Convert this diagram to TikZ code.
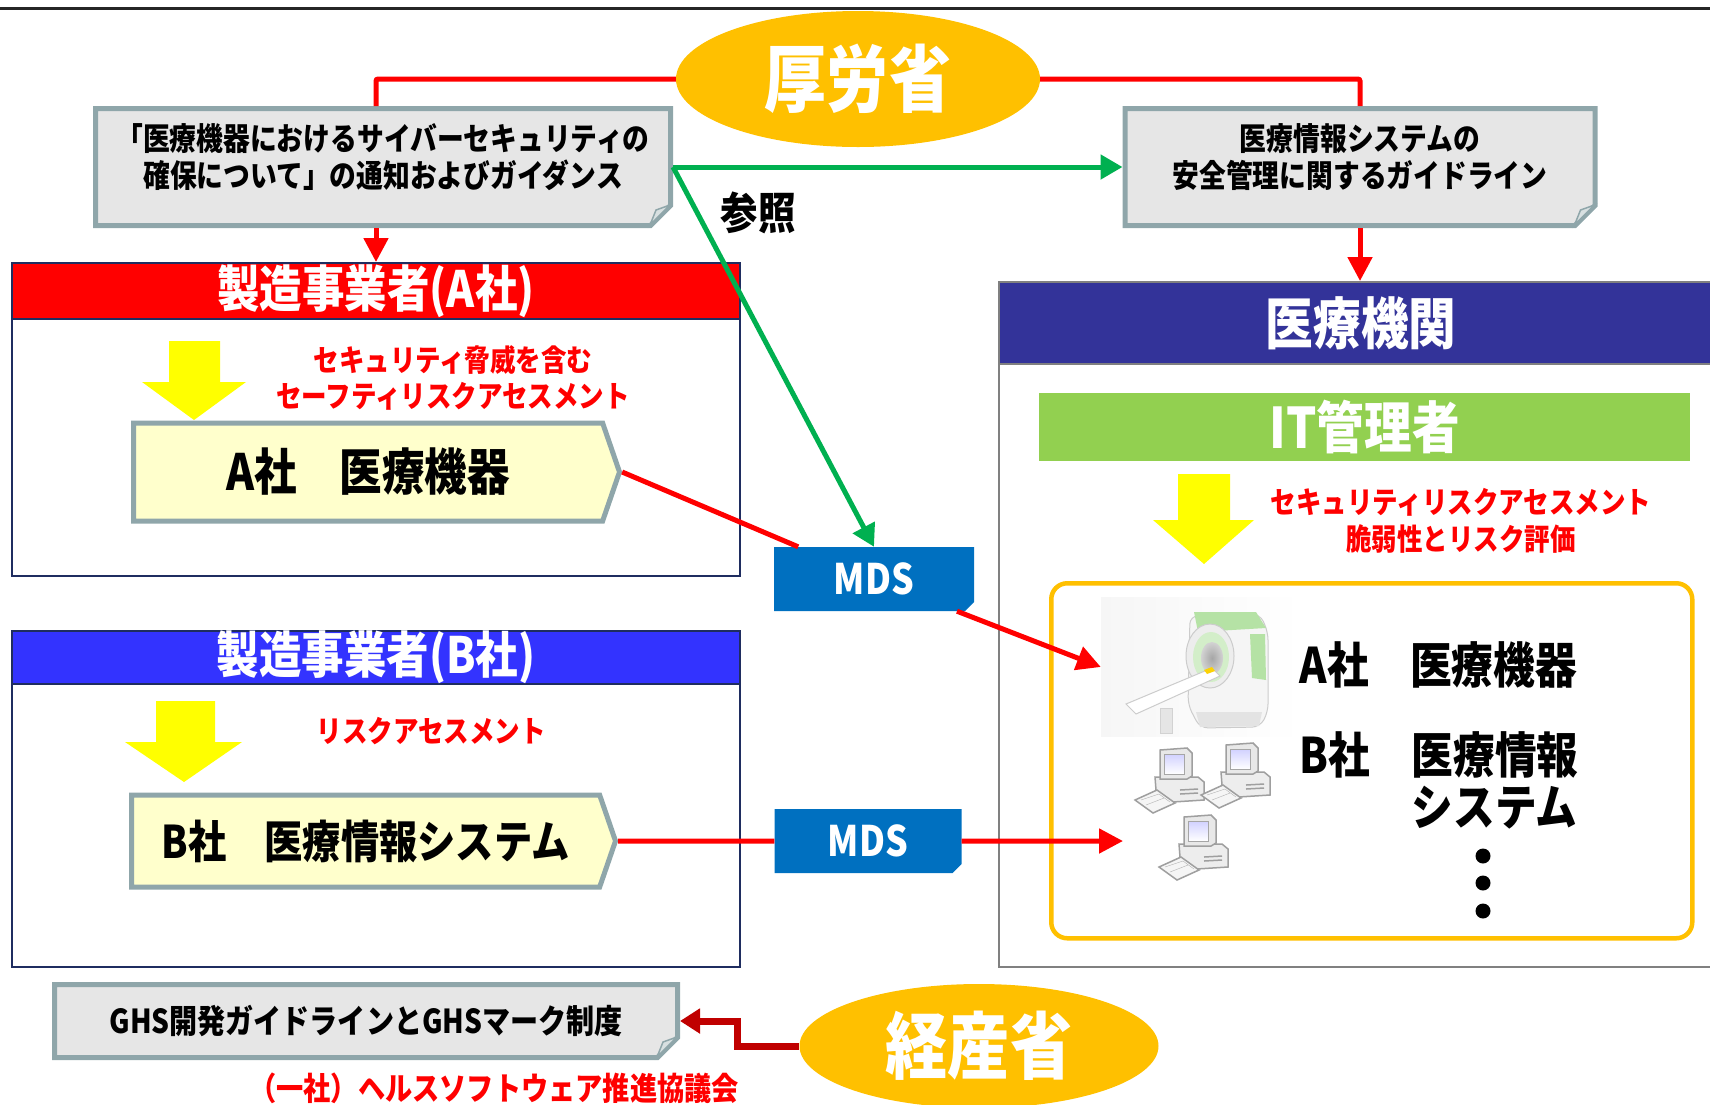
\documentclass[tikz,border=0pt]{standalone}
\usepackage{fontspec}
\setmainfont{Noto Sans CJK JP}[BoldFont={Noto Sans CJK JP Black}, FakeStretch=0.85]
\usepackage{tikz}
\usetikzlibrary{shapes.geometric, shapes.misc, shapes.symbols, arrows.meta, positioning, calc}
\definecolor{ministrygold}{RGB}{255, 192, 0}
\definecolor{alertred}{RGB}{255, 0, 0}
\definecolor{metired}{RGB}{192, 0, 0}
\definecolor{refgreen}{RGB}{0, 176, 80}
\definecolor{notegray}{RGB}{230, 230, 230}
\definecolor{noteedge}{RGB}{143, 166, 170}
\definecolor{productcream}{RGB}{255, 255, 204}
\definecolor{mdsblue}{RGB}{0, 112, 192}
\definecolor{makerblue}{RGB}{51, 51, 255}
\definecolor{hospitalnavy}{RGB}{51, 51, 153}
\definecolor{itgreen}{RGB}{146, 208, 80}
\definecolor{flowyellow}{RGB}{255, 255, 0}
\definecolor{panelnavy}{RGB}{31, 45, 96}
\definecolor{panelgray}{RGB}{128, 128, 128}
\definecolor{scannergreen}{RGB}{181, 226, 165}
\newcommand{\fsz}[2]{\fontsize{#1pt}{#2pt}\selectfont}

\begin{document}
\begin{tikzpicture}[
    x=1pt, y=-1pt,
    ministry/.style={ellipse, fill=ministrygold, inner sep=0pt, text=white, font=\bfseries\fsz{73}{80}},
    note/.style={chamfered rectangle, chamfered rectangle corners=south east, chamfered rectangle sep=10pt,
        fill=notegray, draw=noteedge, line width=5pt, inner xsep=4pt, align=center, font=\bfseries\fsz{31.5}{37}},
    panel/.style={draw=panelnavy, line width=2pt, fill=white, anchor=north west, inner sep=0pt},
    header/.style={draw=panelnavy, line width=2pt, anchor=north west, inner sep=0pt, text=white, font=\bfseries\fsz{50}{56}},
    product/.style={signal, signal to=east, signal pointer angle=142, fill=productcream, draw=noteedge,
        line width=5pt, anchor=west, font=\bfseries\fsz{50}{56}},
    mds/.style={chamfered rectangle, chamfered rectangle corners=south east, chamfered rectangle sep=4.5pt,
        fill=mdsblue, inner sep=0pt, text=white, font=\bfseries\fsz{42}{48}},
    hint/.style={text=alertred, align=center, font=\bfseries\fsz{30}{36}},
    flow/.style={fill=flowyellow},
    redline/.style={alertred, line width=5pt},
    redarrow/.style={redline, -{Triangle[length=24pt, width=24pt]}},
    greenarrow/.style={refgreen, line width=5pt, -{Triangle[length=22pt, width=24pt]}},
    metiarrow/.style={metired, line width=7pt, -{Triangle[length=20pt, width=24pt]}},
    device/.style={draw=gray!75, line width=1.5pt}
]
\useasboundingbox (0,0) rectangle (1710,1104);
\draw[line width=3pt, black!85] (0,8) -- (1710,8);

% Manufacturer panels
\node[panel, minimum width=728pt, minimum height=313pt] (makerA) at (11,262) {};
\node[header, fill=alertred, minimum width=728pt, minimum height=56pt] (hdrA) at (makerA.north west) {製造事業者(A社)};
\node[panel, minimum width=728pt, minimum height=336pt] (makerB) at (11,630) {};
\node[header, fill=makerblue, minimum width=728pt, minimum height=48pt] (hdrB) at (makerB.north west) {製造事業者(B社)};

% Hospital panel
\node[panel, draw=panelgray, minimum width=724pt, minimum height=685pt] (hospital) at (998,281) {};
\node[header, draw=panelgray, fill=hospitalnavy, minimum width=724pt, minimum height=82pt, font=\bfseries\fsz{56}{62}] (hdrH) at (hospital.north west) {医療機関};
\node[anchor=north west, fill=itgreen, minimum width=651pt, minimum height=68pt, inner sep=0pt, text=white, font=\bfseries\fsz{56}{62}] (itadmin) at (1039,393) {IT管理者};
\node[anchor=north west, draw=ministrygold, line width=4.5pt, rounded corners=16pt, minimum width=641pt, minimum height=355pt] (assets) at (1049,581) {};

% Scanner
\node[minimum width=202pt, minimum height=139pt, inner sep=0pt, left color=gray!7, right color=white] (mri) at (1202,667) {};
\filldraw[fill=gray!8, draw=gray!40, line width=1pt, rounded corners=8pt] (1190,616) -- (1260,614) -- (1268,632) -- (1268,712) -- (1260,727) -- (1200,728) -- (1188,705) -- cycle;
\fill[scannergreen] (1194,612) -- (1256,612) -- (1266,628) -- (1198,632) -- cycle;
\fill[scannergreen] (1250,634) -- (1265,634) -- (1266,680) -- (1252,678) -- cycle;
\fill[gray!22] (1196,712) -- (1262,712) -- (1259,726) -- (1200,727) -- cycle;
\filldraw[fill=gray!14, draw=gray!40, line width=1pt] (1210,656) ellipse (24pt and 32pt);
\fill[scannergreen!60!white] (1211,657) ellipse (18pt and 25pt);
\shade[inner color=gray!70, outer color=gray!35] (1212,658) ellipse (11pt and 16pt);
\filldraw[fill=gray!20, draw=gray!35] (1160,708) rectangle (1172,733);
\filldraw[fill=white, draw=gray!40, line width=1pt] (1126,704) -- (1212,668) -- (1220,676) -- (1136,714) -- cycle;
\fill[yellow!70!orange] (1204,670) -- (1212,667) -- (1215,671) -- (1207,674) -- cycle;

% Computers
\foreach \px/\py in {1160/748, 1226/743, 1184/815}{
  \begin{scope}[shift={(\px,\py)}]
    \filldraw[device, fill=gray!14] (-5,29) -- (38,29) -- (44,34) -- (44,52) -- (-3,55) -- cycle;
    \draw[device] (20,42) -- (38,41) (20,46) -- (38,45);
    \filldraw[device, fill=gray!18] (0,2) -- (27,0) -- (32,5) -- (32,28) -- (27,31) -- (0,31) -- cycle;
    \shade[top color=blue!18, bottom color=white, draw=gray!70] (4,6) rectangle (24,26);
    \filldraw[device, fill=gray!8] (-25,52) -- (-3,42) -- (15,55) -- (-7,65) -- cycle;
    \draw[gray!60] (-19,52) -- (-1,46) -- (10,54) (-14,57) -- (4,50);
  \end{scope}
}

% Assets in the hospital
\node[anchor=west, font=\bfseries\fsz{49}{52}] (assetA) at (1296,665) {A社　医療機器};
\node[anchor=west, align=left, font=\bfseries\fsz{49}{52}] (assetB) at (1296,781) {B社　医療情報\\\phantom{B社　}システム};
\foreach \dy in {856, 883, 911}
  \fill (1483,\dy) circle (7.5pt);

% Yellow flow arrows
\fill[flow] (169,341) -- (220,341) -- (220,382) -- (246,382) -- (194,420) -- (142,382) -- (169,382) -- cycle;
\fill[flow] (156,701) -- (215,701) -- (215,742) -- (242,742) -- (184,782) -- (125,742) -- (156,742) -- cycle;
\fill[flow] (1178,474) -- (1230,474) -- (1230,520) -- (1254,520) -- (1204,564) -- (1153,520) -- (1178,520) -- cycle;

% Assessment notes
\node[hint] (hintA) at (453,378) {セキュリティ脅威を含む\\セーフティリスクアセスメント};
\node[hint] (hintB) at (431,731) {リスクアセスメント};
\node[hint, font=\bfseries\fsz{30}{37}] (hintH) at (1461,521) {セキュリティリスクアセスメント\\脆弱性とリスク評価};

% Products
\node[product, minimum width=486pt, minimum height=98pt] (devA) at (131,472) {A社　医療機器};
\node[product, minimum width=484pt, minimum height=92pt, font=\bfseries\fsz{45}{52}] (sysB) at (129,841) {B社　医療情報システム};

% Ministries and documents
\node[ministry, minimum width=364pt, minimum height=136pt] (mhlw) at (858,79) {厚労省};
\node[ministry, minimum width=359pt, minimum height=124pt] (meti) at (979,1046) {経産省};
\node[note, minimum width=575pt, minimum height=117pt, text depth=22pt] (notice) at (383,167) {「医療機器におけるサイバーセキュリティの\\確保について」の通知およびガイダンス};
\node[note, minimum width=470pt, minimum height=117pt, text depth=22pt] (guide) at (1360,167) {医療情報システムの\\安全管理に関するガイドライン};
\node[note, minimum width=623pt, minimum height=73pt, font=\bfseries\fsz{33}{38}] (ghs) at (366,1021) {GHS開発ガイドラインとGHSマーク制度};
\node[hint, font=\bfseries\fsz{32}{36}] (council) at (494,1088) {（一社）ヘルスソフトウェア推進協議会};

% Folded corners
\foreach \n in {notice, guide, ghs}
  \filldraw[fill=noteedge!35!white, draw=noteedge, line width=1.5pt]
    ($(\n.east |- \n.south)+(-23,-3)$) -- ($(\n.east |- \n.south)+(-3,-23)$) -- ($(\n.east |- \n.south)+(-17,-18)$) -- cycle;

% MDS documents
\node[mds, minimum width=200pt, minimum height=64pt] (mdsA) at (874,579) {MDS};
\node[mds, minimum width=187pt, minimum height=64pt] (mdsB) at (868,841) {MDS};
\coordinate (pcin) at (1123,841);

% Arrows
\draw[redline, rounded corners=2pt] (mhlw.west) -| (notice.north -| makerA.north);
\draw[redline, rounded corners=2pt] (mhlw.east) -| (guide.north);
\draw[redarrow] (notice.south -| makerA.north) -- (hdrA.north);
\draw[redarrow] (guide.south) -- (hdrH.north -| guide.south);
\draw[greenarrow] (notice.east) -- (guide.west);
\draw[greenarrow] (notice.east) -- (mdsA.north);
\draw[redline] (devA.east) -- (mdsA);
\draw[redarrow] (mdsA) -- (mri.west);
\draw[redline] (sysB.east) -- (mdsB);
\draw[redarrow] (mdsB) -- (pcin);
\draw[metiarrow] (meti.west) -- ++(-62,0) |- (ghs.east);

% Labels
\node[font=\bfseries\fsz{44}{48}] (refer) at (758,213) {参照};

\end{tikzpicture}
\end{document}
